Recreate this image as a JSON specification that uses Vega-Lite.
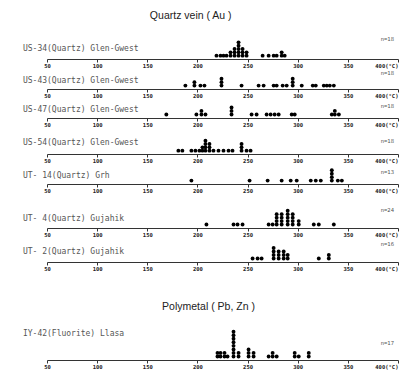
{
  "$schema": "https://vega.github.io/schema/vega-lite/v6.json",
  "padding": {"left": 22, "top": 10, "right": 0, "bottom": 0},
  "background": "white",
  "title": {"text": "Quartz vein ( Au )", "font": "Liberation Sans", "fontSize": 10.5, "fontWeight": "normal", "color": "#222", "anchor": "middle", "dx": -20, "offset": 8},
  "spacing": 6,
  "bounds": "flush",
  "datasets": {
    "labels": [
      {"r": 1, "name": "US-34(Quartz) Glen-Gwest", "n": "n=18"},
      {"r": 2, "name": "US-43(Quartz) Glen-Gwest", "n": "n=18"},
      {"r": 3, "name": "US-47(Quartz) Glen-Gwest", "n": "n=18"},
      {"r": 4, "name": "US-54(Quartz) Glen-Gwest", "n": "n=18"},
      {"r": 5, "name": "UT- 14(Quartz) Grh", "n": "n=13"},
      {"r": 6, "name": "UT- 4(Quartz) Gujahik", "n": "n=24"},
      {"r": 7, "name": "UT- 2(Quartz) Gujahik", "n": "n=16"},
      {"r": 8, "name": "IY-42(Fluorite) Llasa", "n": "n=17"}
    ],
    "dots": [
      {"r":1,"t":219},{"r":1,"t":223},{"r":1,"t":226},{"r":1,"t":229},{"r":1,"t":233},{"r":1,"t":233},
      {"r":1,"t":237},{"r":1,"t":237},{"r":1,"t":237},{"r":1,"t":241},{"r":1,"t":241},{"r":1,"t":241},{"r":1,"t":241},{"r":1,"t":241},
      {"r":1,"t":245},{"r":1,"t":245},{"r":1,"t":245},{"r":1,"t":249},{"r":1,"t":249},{"r":1,"t":265},{"r":1,"t":271},{"r":1,"t":276},
      {"r":1,"t":279},{"r":1,"t":284},{"r":1,"t":284},{"r":1,"t":287},
      {"r":2,"t":188},{"r":2,"t":197},{"r":2,"t":197},{"r":2,"t":203},{"r":2,"t":207},{"r":2,"t":224},{"r":2,"t":224},{"r":2,"t":224},
      {"r":2,"t":244},{"r":2,"t":261},{"r":2,"t":266},{"r":2,"t":276},{"r":2,"t":279},{"r":2,"t":285},{"r":2,"t":289},
      {"r":2,"t":295},{"r":2,"t":295},{"r":2,"t":295},{"r":2,"t":304},{"r":2,"t":315},{"r":2,"t":318},{"r":2,"t":326},{"r":2,"t":329},{"r":2,"t":332},{"r":2,"t":336},
      {"r":3,"t":169},{"r":3,"t":199},{"r":3,"t":204},{"r":3,"t":204},{"r":3,"t":208},{"r":3,"t":234},{"r":3,"t":234},{"r":3,"t":234},
      {"r":3,"t":254},{"r":3,"t":259},{"r":3,"t":269},{"r":3,"t":273},{"r":3,"t":277},{"r":3,"t":281},{"r":3,"t":294},{"r":3,"t":297},
      {"r":3,"t":334},{"r":3,"t":337},{"r":3,"t":337},{"r":3,"t":341},
      {"r":4,"t":181},{"r":4,"t":185},{"r":4,"t":194},{"r":4,"t":198},{"r":4,"t":202},{"r":4,"t":205},{"r":4,"t":205},
      {"r":4,"t":208},{"r":4,"t":208},{"r":4,"t":208},{"r":4,"t":208},{"r":4,"t":212},{"r":4,"t":212},{"r":4,"t":212},
      {"r":4,"t":216},{"r":4,"t":221},{"r":4,"t":226},{"r":4,"t":231},{"r":4,"t":235},{"r":4,"t":244},{"r":4,"t":244},{"r":4,"t":244},
      {"r":4,"t":249},{"r":4,"t":253},
      {"r":5,"t":194},{"r":5,"t":252},{"r":5,"t":270},{"r":5,"t":284},{"r":5,"t":293},{"r":5,"t":299},{"r":5,"t":313},{"r":5,"t":318},
      {"r":5,"t":323},{"r":5,"t":334},{"r":5,"t":334},{"r":5,"t":334},{"r":5,"t":334},{"r":5,"t":340},{"r":5,"t":344},
      {"r":6,"t":209},{"r":6,"t":236},{"r":6,"t":240},{"r":6,"t":245},{"r":6,"t":271},{"r":6,"t":275},
      {"r":6,"t":279},{"r":6,"t":279},{"r":6,"t":279},{"r":6,"t":279},{"r":6,"t":284},{"r":6,"t":284},{"r":6,"t":284},{"r":6,"t":284},
      {"r":6,"t":290},{"r":6,"t":290},{"r":6,"t":290},{"r":6,"t":290},{"r":6,"t":290},{"r":6,"t":295},{"r":6,"t":295},{"r":6,"t":295},{"r":6,"t":295},
      {"r":6,"t":301},{"r":6,"t":301},{"r":6,"t":316},{"r":6,"t":321},{"r":6,"t":336},
      {"r":7,"t":255},{"r":7,"t":260},{"r":7,"t":264},{"r":7,"t":276},{"r":7,"t":276},{"r":7,"t":276},{"r":7,"t":276},
      {"r":7,"t":281},{"r":7,"t":281},{"r":7,"t":281},{"r":7,"t":286},{"r":7,"t":286},{"r":7,"t":286},{"r":7,"t":290},{"r":7,"t":290},
      {"r":7,"t":321},{"r":7,"t":331},{"r":7,"t":331},
      {"r":8,"t":220},{"r":8,"t":220},{"r":8,"t":223},{"r":8,"t":223},{"r":8,"t":227},{"r":8,"t":227},{"r":8,"t":230},
      {"r":8,"t":236},{"r":8,"t":236},{"r":8,"t":236},{"r":8,"t":236},{"r":8,"t":236},{"r":8,"t":236},{"r":8,"t":236},{"r":8,"t":236},
      {"r":8,"t":241},{"r":8,"t":241},{"r":8,"t":251},{"r":8,"t":251},{"r":8,"t":251},{"r":8,"t":256},{"r":8,"t":256},
      {"r":8,"t":271},{"r":8,"t":275},{"r":8,"t":275},{"r":8,"t":279},{"r":8,"t":297},{"r":8,"t":297},{"r":8,"t":301},{"r":8,"t":311},{"r":8,"t":311}
    ]
  },
  "config": {
    "view": {"stroke": null},
    "axis": {"grid": false},
    "axisX": {
      "title": null,
      "values": [50, 100, 150, 200, 250, 300, 350, 400],
      "labelExpr": "datum.value == 400 ? '400(°C)' : datum.label",
      "labelAlign": {"condition": {"test": "datum.value == 400", "value": "right"}, "value": "center"},
      "labelFont": "DejaVu Sans Mono",
      "labelFontSize": 5.5,
      "labelFontWeight": "bold",
      "labelColor": "#222",
      "labelPadding": 1,
      "domainColor": "#333",
      "domainWidth": 1.2,
      "tickColor": "#333",
      "tickSize": 3
    },
    "text": {"font": "DejaVu Sans Mono", "color": "#555", "baseline": "middle"},
    "circle": {"color": "black", "opacity": 1, "size": 15}
  },
  "vconcat": [
    {"width": 351, "height": 30, "layer": [
      {"data": {"name": "dots"}, "transform": [{"filter": "datum.r == 1"}, {"window": [{"op": "row_number", "as": "k"}], "groupby": ["t"]}],
       "mark": "circle",
       "encoding": {"x": {"field": "t", "type": "quantitative", "scale": {"domain": [50, 400], "nice": false, "zero": false}}, "y": {"field": "k", "type": "quantitative", "scale": {"domain": [0.35, 8.24]}, "axis": null}}},
      {"data": {"name": "labels"}, "transform": [{"filter": "datum.r == 1"}], "mark": {"type": "text", "align": "left", "fontSize": 8},
       "encoding": {"x": {"datum": 26}, "y": {"datum": 2.98}, "text": {"field": "name"}}},
      {"data": {"name": "labels"}, "transform": [{"filter": "datum.r == 1"}], "mark": {"type": "text", "align": "right", "fontSize": 5.5},
       "encoding": {"x": {"datum": 396}, "y": {"datum": 6.14}, "text": {"field": "n"}}}
    ]},
    {"width": 351, "height": 24, "layer": [
      {"data": {"name": "dots"}, "transform": [{"filter": "datum.r == 2"}, {"window": [{"op": "row_number", "as": "k"}], "groupby": ["t"]}],
       "mark": "circle",
       "encoding": {"x": {"field": "t", "type": "quantitative", "scale": {"domain": [50, 400], "nice": false, "zero": false}}, "y": {"field": "k", "type": "quantitative", "scale": {"domain": [0.35, 6.67]}, "axis": null}}},
      {"data": {"name": "labels"}, "transform": [{"filter": "datum.r == 2"}], "mark": {"type": "text", "align": "left", "fontSize": 8},
       "encoding": {"x": {"datum": 26}, "y": {"datum": 2.46}, "text": {"field": "name"}}},
      {"data": {"name": "labels"}, "transform": [{"filter": "datum.r == 2"}], "mark": {"type": "text", "align": "right", "fontSize": 5.5},
       "encoding": {"x": {"datum": 396}, "y": {"datum": 4.56}, "text": {"field": "n"}}}
    ]},
    {"width": 351, "height": 23, "layer": [
      {"data": {"name": "dots"}, "transform": [{"filter": "datum.r == 3"}, {"window": [{"op": "row_number", "as": "k"}], "groupby": ["t"]}],
       "mark": "circle",
       "encoding": {"x": {"field": "t", "type": "quantitative", "scale": {"domain": [50, 400], "nice": false, "zero": false}}, "y": {"field": "k", "type": "quantitative", "scale": {"domain": [0.35, 6.4]}, "axis": null}}},
      {"data": {"name": "labels"}, "transform": [{"filter": "datum.r == 3"}], "mark": {"type": "text", "align": "left", "fontSize": 8},
       "encoding": {"x": {"datum": 26}, "y": {"datum": 2.19}, "text": {"field": "name"}}},
      {"data": {"name": "labels"}, "transform": [{"filter": "datum.r == 3"}], "mark": {"type": "text", "align": "right", "fontSize": 5.5},
       "encoding": {"x": {"datum": 396}, "y": {"datum": 3.51}, "text": {"field": "n"}}}
    ]},
    {"width": 351, "height": 30, "layer": [
      {"data": {"name": "dots"}, "transform": [{"filter": "datum.r == 4"}, {"window": [{"op": "row_number", "as": "k"}], "groupby": ["t"]}],
       "mark": "circle",
       "encoding": {"x": {"field": "t", "type": "quantitative", "scale": {"domain": [50, 400], "nice": false, "zero": false}}, "y": {"field": "k", "type": "quantitative", "scale": {"domain": [0.35, 8.24]}, "axis": null}}},
      {"data": {"name": "labels"}, "transform": [{"filter": "datum.r == 4"}], "mark": {"type": "text", "align": "left", "fontSize": 8},
       "encoding": {"x": {"datum": 26}, "y": {"datum": 3.24}, "text": {"field": "name"}}},
      {"data": {"name": "labels"}, "transform": [{"filter": "datum.r == 4"}], "mark": {"type": "text", "align": "right", "fontSize": 5.5},
       "encoding": {"x": {"datum": 396}, "y": {"datum": 4.03}, "text": {"field": "n"}}}
    ]},
    {"width": 351, "height": 24, "layer": [
      {"data": {"name": "dots"}, "transform": [{"filter": "datum.r == 5"}, {"window": [{"op": "row_number", "as": "k"}], "groupby": ["t"]}],
       "mark": "circle",
       "encoding": {"x": {"field": "t", "type": "quantitative", "scale": {"domain": [50, 400], "nice": false, "zero": false}}, "y": {"field": "k", "type": "quantitative", "scale": {"domain": [0.35, 6.67]}, "axis": null}}},
      {"data": {"name": "labels"}, "transform": [{"filter": "datum.r == 5"}], "mark": {"type": "text", "align": "left", "fontSize": 8},
       "encoding": {"x": {"datum": 26}, "y": {"datum": 2.46}, "text": {"field": "name"}}},
      {"data": {"name": "labels"}, "transform": [{"filter": "datum.r == 5"}], "mark": {"type": "text", "align": "right", "fontSize": 5.5},
       "encoding": {"x": {"datum": 396}, "y": {"datum": 3.51}, "text": {"field": "n"}}}
    ]},
    {"width": 351, "height": 38, "layer": [
      {"data": {"name": "dots"}, "transform": [{"filter": "datum.r == 6"}, {"window": [{"op": "row_number", "as": "k"}], "groupby": ["t"]}],
       "mark": "circle",
       "encoding": {"x": {"field": "t", "type": "quantitative", "scale": {"domain": [50, 400], "nice": false, "zero": false}}, "y": {"field": "k", "type": "quantitative", "scale": {"domain": [0.35, 10.35]}, "axis": null}}},
      {"data": {"name": "labels"}, "transform": [{"filter": "datum.r == 6"}], "mark": {"type": "text", "align": "left", "fontSize": 8},
       "encoding": {"x": {"datum": 26}, "y": {"datum": 2.72}, "text": {"field": "name"}}},
      {"data": {"name": "labels"}, "transform": [{"filter": "datum.r == 6"}], "mark": {"type": "text", "align": "right", "fontSize": 5.5},
       "encoding": {"x": {"datum": 396}, "y": {"datum": 5.35}, "text": {"field": "n"}}}
    ]},
    {"width": 351, "height": 28, "layer": [
      {"data": {"name": "dots"}, "transform": [{"filter": "datum.r == 7"}, {"window": [{"op": "row_number", "as": "k"}], "groupby": ["t"]}],
       "mark": "circle",
       "encoding": {"x": {"field": "t", "type": "quantitative", "scale": {"domain": [50, 400], "nice": false, "zero": false}}, "y": {"field": "k", "type": "quantitative", "scale": {"domain": [0.35, 7.72]}, "axis": null}}},
      {"data": {"name": "labels"}, "transform": [{"filter": "datum.r == 7"}], "mark": {"type": "text", "align": "left", "fontSize": 8},
       "encoding": {"x": {"datum": 26}, "y": {"datum": 2.72}, "text": {"field": "name"}}},
      {"data": {"name": "labels"}, "transform": [{"filter": "datum.r == 7"}], "mark": {"type": "text", "align": "right", "fontSize": 5.5},
       "encoding": {"x": {"datum": 396}, "y": {"datum": 5.09}, "text": {"field": "n"}}}
    ]},
    {"width": 351, "height": 92,
     "title": {"text": "Polymetal ( Pb, Zn )", "font": "Liberation Sans", "fontSize": 10.5, "fontWeight": "normal", "color": "#222", "anchor": "middle", "dx": -14, "offset": -44},
     "layer": [
      {"data": {"name": "dots"}, "transform": [{"filter": "datum.r == 8"}, {"window": [{"op": "row_number", "as": "k"}], "groupby": ["t"]}],
       "mark": "circle",
       "encoding": {"x": {"field": "t", "type": "quantitative", "scale": {"domain": [50, 400], "nice": false, "zero": false}}, "y": {"field": "k", "type": "quantitative", "scale": {"domain": [0.35, 24.56]}, "axis": null}}},
      {"data": {"name": "labels"}, "transform": [{"filter": "datum.r == 8"}], "mark": {"type": "text", "align": "left", "fontSize": 8},
       "encoding": {"x": {"datum": 26}, "y": {"datum": 7.46}, "text": {"field": "name"}}},
      {"data": {"name": "labels"}, "transform": [{"filter": "datum.r == 8"}], "mark": {"type": "text", "align": "right", "fontSize": 5.5},
       "encoding": {"x": {"datum": 396}, "y": {"datum": 4.82}, "text": {"field": "n"}}}
    ]}
  ]
}
